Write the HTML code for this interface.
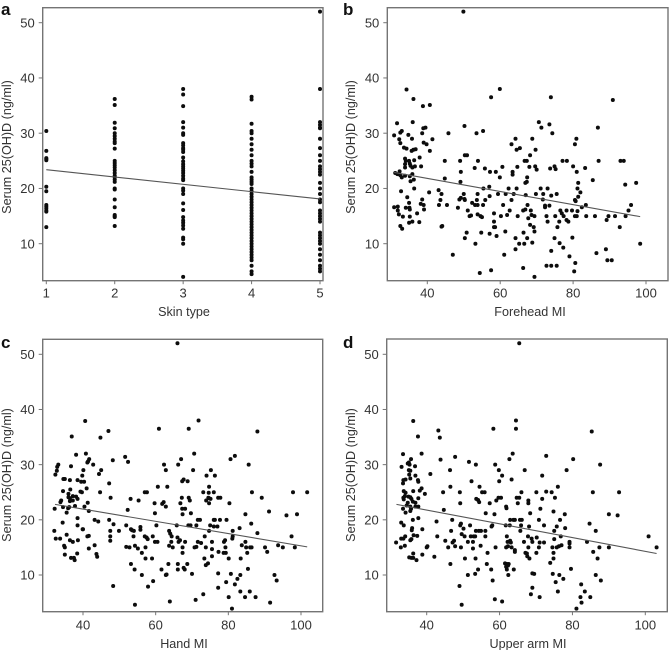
<!DOCTYPE html>
<html lang="en">
<head>
<meta charset="utf-8">
<title>Serum 25(OH)D scatter plots</title>
<style>
html,body{margin:0;padding:0;background:#fff;}
svg{display:block;font-family:"Liberation Sans",sans-serif;fill:#333;}
.frame{fill:none;stroke:#747474;stroke-width:1.4;}
.tick{stroke:#747474;stroke-width:1;}
.tl{font-size:13px;fill:#333;}
.title{font-size:12.6px;fill:#333;text-anchor:middle;}
.letter{font-size:17px;font-weight:bold;fill:#111;}
.trend{stroke:#555;stroke-width:1.1;fill:none;}
.pt{fill:#0c0c0c;}
</style>
</head>
<body>
<svg id="chart" width="669" height="650" viewBox="0 0 669 650" xmlns="http://www.w3.org/2000/svg">
<g id="panel-a">
<text class="letter" x="1" y="15">a</text>
<text class="title" transform="translate(11,147) rotate(-90)">Serum 25(OH)D (ng/ml)</text>
<text class="title" x="184" y="316">Skin type</text>
</g>
<g id="panel-b">
<text class="letter" x="343" y="15">b</text>
<text class="title" transform="translate(355,147) rotate(-90)">Serum 25(OH)D (ng/ml)</text>
<text class="title" x="530" y="316">Forehead MI</text>
</g>
<g id="panel-c">
<text class="letter" x="1" y="348">c</text>
<text class="title" transform="translate(11,475) rotate(-90)">Serum 25(OH)D (ng/ml)</text>
<text class="title" x="184" y="648">Hand MI</text>
</g>
<g id="panel-d">
<text class="letter" x="343" y="348">d</text>
<text class="title" transform="translate(355,475) rotate(-90)">Serum 25(OH)D (ng/ml)</text>
<text class="title" x="528" y="648">Upper arm MI</text>
</g>
</svg>
<script>
// ---- Tick labels ----
const serumTicks = [10, 20, 30, 40, 50];
const skinTicks = [1, 2, 3, 4, 5];
const miTicks = [40, 60, 80, 100];

// ---- Panel a: serum values per skin type ----
const skinTypes = [1, 2, 3, 4, 5];
const skinType1 = [30.4,26.8,25.5,25.3,25.1,20.3,19.5,17,16.7,16.4,16,15.8,13];
const skinType2 = [36.2,35.1,31.9,30.9,30,29.5,29,28.5,28.2,27.2,25,24.6,24.2,23.8,23.3,22.8,22.3,22,21.6,21.2,20,19.8,18,16.6,15.2,15,14.8,13.2];
const skinType3 = [38,37,34.9,32,31,30,29.7,28.2,27.8,27.3,27,26.6,25.6,24.9,24.4,24,23.6,23.2,22.8,22.3,21.8,21.5,20,19.6,19,17.3,16.1,14.8,14.2,13.8,13.3,12.7,11.1,10.8,10,4];
const skinType4 = [36.6,36.1,31.7,30.4,30,29,28,27,26,25,24.5,24,23,22,21.6,21.2,20.8,20,19.5,19,18.5,18,17.5,17,16.5,16,15.5,15,14.5,14,13.5,13,12.5,12,11.5,11,10.5,10,9.5,9,8.5,8,7.5,7,6,5,4.5];
const skinType5 = [52,38,32,31.5,31,30.9,29,27.3,26,25,24,23.5,23,22.5,21,20,19,18,17.5,16,15.5,15,14.5,14,12,11.5,11,10.5,10,9,8,7,6,5.5,5];
const skinTrend = [[1,23.4],[5,18.1]];

// ---- Panel b: [forehead MI, serum] ----
const foreheadPoints = [[49.9,52],[34.3,37.9],[36.2,36.2],[38.8,34.9],[40.7,35.1],[57.5,36.5],[59.9,38],[73.9,36.5],[90.9,36],[31.7,31.8],[36,32],[30.9,29.6],[33,30.4],[32.6,30.1],[34.8,29.7],[32.3,28.9],[32.6,28.2],[35.8,29],[38.9,30.9],[39.5,31],[38.6,30],[39,28.3],[39.8,28],[41.4,28.9],[40.7,26.8],[45.8,30],[50.2,31.3],[55.3,30.4],[53.5,30],[33.6,27.4],[34.3,27.2],[35.7,26.8],[36.2,27],[36.8,27.1],[33.9,25.4],[34.1,25],[35,25],[35.2,24.5],[33.9,24.4],[33.9,23.8],[35.4,24.1],[35.9,23.8],[36.6,24],[36.4,25.1],[37.9,25.6],[38.3,24],[31.2,22.8],[31.8,22.6],[32.4,23.1],[32.6,22.4],[33,22],[33.9,22.3],[35.2,22.2],[35.9,22.6],[35.4,21.3],[36.3,21.6],[36.4,20],[32.8,19.5],[34.5,18.4],[35,17.4],[35.1,16.5],[34.1,16.5],[35.2,16.2],[30.9,16.6],[31.9,16.7],[31.9,16],[32.2,15.3],[33.3,14.9],[32.6,13.2],[33.1,12.7],[35.2,14.9],[35,13.8],[35.9,14],[37.2,15.5],[37.8,13.9],[38.6,18],[38.2,17.2],[39,17],[39.1,16.2],[40.5,19.3],[43.1,19.7],[43.9,19],[43.6,17.9],[43.2,17],[44.8,21.8],[44.8,25],[45.4,17],[43.9,13.1],[44.1,13.2],[47,8],[48.4,16.5],[49,25],[49.2,23],[49.1,21.2],[48.8,18],[49.2,18.3],[50,19],[50.2,18.1],[50.3,17.9],[50.3,26],[50.9,26],[51.1,16],[51.6,15],[52,15.1],[52.3,17.4],[53.1,17],[50.8,12],[50.3,11],[53.2,10],[53,23.7],[53.9,25],[53.8,19],[53.6,17.9],[53.8,17],[53.8,15.3],[54.6,15],[55,14.8],[55.4,20],[55.3,17],[55.9,17.9],[55.8,23.6],[57.2,23],[57,20.3],[57.1,18.6],[54.8,12],[57.1,11.8],[54.4,4.7],[57.5,5.2],[58.3,15.5],[58.3,14],[58.3,13],[58.6,13],[59,11.4],[58.8,23],[59.4,19],[59.9,22],[60.6,23.9],[60.2,15],[60.8,17],[61.5,19],[61.9,15.2],[62.6,16],[61.4,12.2],[61.1,8],[62.3,20],[63.1,17.9],[63.7,19],[63.4,23],[63.4,22.5],[63.1,28],[64.2,29],[64.5,27],[65.4,27.3],[64.7,23.9],[64.5,20],[64.8,15],[64.2,11],[64.2,9],[65.2,10],[66.3,5.6],[66.3,16],[66.9,16.2],[66.4,12],[66.6,10],[67.4,11],[66.7,25],[67.3,25],[68.2,26],[68,23.9],[68.8,29],[67.4,22],[66.9,21],[67.3,21.2],[67,18.8],[67.5,17],[67.7,14.6],[68.2,13.4],[68.4,16],[68.6,15.2],[69.2,13],[69.4,15],[69.4,12.2],[68.8,10.2],[69.7,27],[69.6,24],[70,23.4],[69.8,19],[69.4,4],[70.6,32],[71.3,31],[73.5,31.6],[74.3,30],[71.1,20],[71.8,19],[71.7,18],[72.3,16.9],[72.3,16.6],[73,20],[73.5,16.9],[72.7,15],[73,14],[73.7,23.6],[74,18.7],[74.9,24],[75.2,23.5],[75.5,19],[75.1,15],[75.7,13],[76.2,14],[76.5,16],[76.9,15.5],[74.9,11],[76.3,10.1],[77.3,9.3],[74,8.7],[72.7,6],[74,6],[75.5,6],[77.1,25],[78.3,25],[77.4,15],[78.2,16],[78.2,14.3],[78.7,14],[79,7.7],[79.8,11.1],[80,24],[81,23],[80.9,29],[80.5,28],[79.7,16],[80.5,15],[81,15],[80.5,17.9],[80.7,17.7],[81.2,20],[81.4,21],[82,19.3],[81.4,18.5],[81.2,15.9],[82.4,16.6],[83.5,17],[83.6,15],[83.3,23.7],[80.3,5],[80.6,6.5],[85.4,21.5],[86,15],[86.4,8.3],[86.8,31],[87,25],[89.2,14.3],[89.7,15],[91.5,15],[92.8,13],[89,9],[89.4,7],[90.6,7],[93,25],[93.9,25],[94.3,20.7],[94.4,15],[95.2,16],[95.9,17],[97.3,21],[98.4,10]];
const foreheadTrend = [[30.9,22.9],[98.4,14.9]];

// ---- Panel c: [hand MI, serum] ----
const handPoints = [[66,52],[40.6,37.9],[36.9,35.1],[47,36.1],[44.8,34.9],[60.9,36.5],[69.1,36.5],[71.8,38],[88,36],[38.1,31.8],[40.8,32],[41.7,31],[41.4,30.6],[41.2,30.4],[42.8,30],[32.4,28.2],[32.8,28.9],[32.9,29.6],[33.2,30],[36.7,29.7],[40.1,29],[39.8,28],[44.4,28.3],[45,29],[48.2,30.8],[51.6,31.4],[52.4,30.5],[34.6,27.4],[35,27.4],[36.4,27.2],[38.5,27.2],[39.5,26.9],[40.3,26.9],[34.5,25.2],[36.5,25.5],[41,25.7],[39.3,25.1],[39.7,25],[44.7,25],[47.2,26.6],[47.6,24],[34,23.5],[33.8,23.2],[36,24.7],[36,24.1],[36.4,23.9],[37.2,24.3],[38.1,24.2],[38.5,23.8],[36.4,23.4],[37.2,23.5],[41.3,23.1],[32.2,22],[34.5,22.3],[35.9,22.1],[36.2,22.3],[35.5,21.3],[37.8,22.5],[40.4,22.4],[41.6,21.6],[34.4,19.5],[38.5,20.3],[38.5,19],[43.2,20],[44.2,19.7],[47.2,20],[48.4,19.2],[32.1,18],[32.5,16.6],[33.7,16.6],[35.5,17.3],[36.4,16.3],[37.2,16],[39.9,18.3],[40,18.3],[38.6,16.3],[41.2,17],[41.6,17.1],[34.8,15.3],[35,15],[35,13.7],[36.7,13.1],[37.5,13.1],[37.7,12.7],[38.4,13.9],[41.6,14.8],[43.2,15.4],[43.7,13.8],[43.9,13.3],[47.5,18],[47.5,17],[47.5,16.2],[49.9,18],[48.3,8],[51.9,19],[52.3,21.8],[53.1,23.8],[55.3,23.5],[53.2,18.3],[53.5,18.1],[54,18],[55.8,18.7],[55.8,18.2],[53.9,17],[51.9,15.1],[52.8,15],[54.3,15.3],[55.1,14.8],[56.2,14],[53.2,12],[54.2,11],[56.2,10],[54.3,4.6],[57,17],[57.5,16.8],[57.8,16.5],[57.2,15],[57.2,13],[57.9,7.9],[57,25],[57.6,25],[60.6,26],[59.7,23],[59.8,21.2],[60.2,19],[59.2,17],[59.8,16],[60.5,16],[59,13],[59.3,8.9],[62.3,30],[62.8,29],[63.2,26],[62.2,23.2],[61.8,22.9],[62.8,22.4],[63.7,18],[64,17.5],[64.4,17],[64.3,16],[63.7,15.3],[64.7,15],[61.6,11],[62.8,10],[63,10.1],[63.5,12],[63.9,5.2],[66.2,30],[67,31],[70.6,32],[70.3,29],[67.3,27],[67.7,27.3],[68.8,27],[67.2,24],[69.1,24],[69.4,23.5],[66.8,23],[67.3,22],[68.1,22],[67.4,21],[69.7,21.2],[65.8,19],[69,19],[69.6,19],[71.2,19],[71.6,20],[72.2,20],[66,16.8],[66.7,16.3],[66.3,16],[67.4,15],[67.4,14],[68.1,16],[66.1,12],[66.1,11],[68.7,12],[67.7,11.3],[68,11],[70,10.2],[71,5.5],[73.1,6.5],[70.7,15],[71.2,15.1],[71.6,16],[72.5,15.8],[73.1,25],[74.6,24.9],[74.7,26],[75.2,29],[74,28],[76.3,28],[76,25],[73.9,23.5],[74.7,23.9],[74.5,24],[75.1,23.8],[74.7,23],[77.2,24],[77.8,24],[76,20],[76.3,20],[77.7,20],[75,19],[76,18.8],[77,18.8],[74.7,18],[73.5,17],[75.5,16],[75.5,14.7],[73.8,15],[77.3,14.2],[75.5,13.4],[73.4,13],[73.8,11.8],[74.4,12.1],[77.2,10.3],[77.2,7.7],[79.4,8.7],[79.5,20],[80.3,23],[80.6,31],[81.8,31.6],[78.8,16],[79.1,16.3],[79.2,15],[78.7,14],[79.3,14],[80.1,13],[81.2,18],[81.2,17],[81.1,16.6],[83.1,18.5],[83.7,15.4],[84.7,16],[84.9,15],[85.2,14],[86,15],[86.4,15],[83.4,13],[80.7,10.2],[81.8,8.3],[82.5,9.3],[83.3,10],[85.4,11.1],[80.1,6],[81,3.9],[83.3,7],[84.6,6],[85.9,7],[87.5,6],[91.5,5],[85.6,30],[86.5,25],[84.7,21],[86.3,19.3],[88,17.6],[89.2,24],[91.2,21.5],[90.1,15],[90.7,14.2],[92.7,10],[93.3,9],[93.7,15.4],[95,15],[96,20.8],[97.4,17],[97.8,25],[98.3,15],[98.9,21],[101.7,25]];
const handTrend = [[32.3,22.8],[101.7,15.1]];

// ---- Panel d: [upper arm MI, serum] ----
const upperArmPoints = [[65.4,52],[36.3,37.9],[37.6,35.1],[64.5,38],[64.5,36.5],[58.3,36.5],[43.2,36.2],[43.6,34.9],[85.3,36],[33.5,31.9],[35.7,31],[38.6,32],[43.8,30.9],[47.8,31.4],[51.6,30.5],[63.6,32],[62.7,31],[72.8,31.6],[80.2,31],[33.1,29.6],[35.1,30.4],[35.3,30],[34.8,30.2],[36.8,29.7],[35.1,29],[35.5,28.9],[35.2,28.2],[36.9,28],[41,28.3],[46.4,29],[53.5,30],[58.8,30],[59.8,29],[60.7,28],[66.9,29],[71.7,28],[78.4,29],[87.6,30],[33.6,27.2],[34.2,27.3],[35.5,27.5],[37.6,27.2],[37.7,26.9],[33.5,26.6],[52.3,27],[59.9,27],[63.3,27.3],[46.5,26],[54.5,26],[76,26],[33.7,25.2],[34.2,24.9],[36.3,25.2],[38.1,25.3],[38.6,25.7],[39.5,24.7],[37.7,23.9],[44.5,25],[49.1,25],[55.2,25],[55.9,25],[66,25],[70.1,25],[72.8,25.1],[74.3,25],[85.6,25],[92.8,25],[33.6,24],[34,24.3],[35,24.2],[35.5,24.1],[33.7,23.7],[35.8,23.8],[36.2,23.3],[36.9,23.1],[34.8,23.1],[53.6,23.8],[54.1,23.6],[54.4,23.2],[49.2,23],[57.3,23],[59.1,23.5],[59.7,24],[60.4,24],[64.7,24],[65.4,24],[65,23],[67.9,23.5],[67.9,23],[71.7,23.8],[75.2,24],[33.5,22],[34.2,21.3],[34.5,22.6],[35.5,22.4],[35.7,22],[35.5,21.6],[36.9,22.4],[37.7,22.4],[44.7,21.8],[56.2,21.2],[58.6,21],[61.8,22.4],[61.9,22.1],[68.4,21.2],[71.2,22],[74.8,21.5],[77.9,21],[90,21],[92.4,20.8],[33,19.5],[33.7,19],[36.2,20],[37.7,20.3],[42.7,19.7],[47,20],[49.4,19.3],[49.2,19],[51.9,19],[58,19],[57.8,18.8],[61.7,19],[62.8,19],[62.9,20],[63.8,20],[64.2,20],[65.6,20],[66.1,20],[65.9,19],[70.8,20],[72.2,19],[76.6,20],[68.1,18.8],[75.7,18.8],[78,18.5],[84.7,19.3],[36,18.5],[35.9,18.1],[38.8,18.3],[46.7,18],[50.1,18.4],[53.5,18],[54.3,18],[54.9,18],[56.1,18],[65.7,18],[75,18],[86.4,18],[33,16.6],[33.6,16.6],[34.1,17],[35.5,16.3],[35.8,16.5],[36.4,17.2],[37.4,17.1],[42.9,17],[49.6,17.4],[50.4,17],[52.1,17],[52.9,17],[53.3,17],[56.1,17],[62,17],[67.8,17],[68.8,16.6],[70.2,16.8],[75,16.5],[76.8,17],[100.9,17],[31.6,15.9],[32.9,15],[34,15.3],[40.2,15.2],[40,15],[45.1,16.2],[47.5,16.2],[47.1,15.9],[45.9,15],[47.8,15.2],[51.3,16],[52.7,16],[52.7,14.8],[49.4,15],[54.8,15.3],[58.9,15],[62.2,16],[62.9,16.2],[63.1,15.9],[61.8,15],[62.3,15.2],[63.3,15],[64.2,14.5],[64.2,14.2],[66.7,16],[69,16],[67.9,15],[72.2,15.9],[71,15.9],[70.8,15],[74.5,15],[75.7,15],[76.3,15.2],[77,15.4],[79.2,16],[79.2,15.7],[79.2,15],[84,16],[85.7,14.2],[87.4,15],[90,15],[103.1,15],[36.3,13.9],[35.8,13.1],[36.3,13.1],[35.2,13.2],[37.2,12.7],[38.8,13.7],[42.1,13.3],[53.4,13],[50.5,13],[56.7,14],[67.1,14],[67.5,13.9],[67.6,13.4],[68.2,13],[70.1,14],[74.8,14],[74.8,13],[73.9,12.2],[86.9,13],[46.5,12],[56.5,12],[61.5,12.1],[62,12],[62.5,12],[61.8,11.5],[62.3,11.7],[62,11],[57.7,11],[63.9,11],[54.1,11],[51.3,10],[53.3,10.2],[62.4,10],[69,10.3],[69.5,10.2],[74.6,10.2],[76.4,10],[79.6,11.1],[86.4,10],[58.1,9],[87.8,9],[75.4,8.7],[77.5,9.3],[49,8],[69,7.7],[82.4,8.3],[76,7],[83.4,7],[68.6,6.5],[71,6],[82.2,6],[84.9,6],[82.5,5],[58.7,5.6],[60.7,5.2],[49.6,4.6],[81.1,3.9]];
const upperArmTrend = [[31.7,22.8],[103.1,13.9]];

// ---- Axis functions ----
function linear(d0, d1, r0, r1) {
  return function (v) { return r0 + (v - d0) * (r1 - r0) / (d1 - d0); };
}
const SVGNS = 'http://www.w3.org/2000/svg';
function make(parent, tag, attrs) {
  const el = document.createElementNS(SVGNS, tag);
  for (const k in attrs) el.setAttribute(k, attrs[k]);
  parent.appendChild(el);
  return el;
}

function drawPanel(id, box, xs, ys, xTicks, points, trend) {
  const g = document.getElementById('panel-' + id);

  const frame = make(g, 'rect', {x: box.l, y: box.t, width: box.r - box.l, height: box.b - box.t, class: 'frame'});
  
  

  serumTicks.forEach(function (t) {
    const y = ys(t);
    const mark = make(g, 'line', {x1: box.l - 4, x2: box.l, y1: y, y2: y, class: 'tick'});
    
    
    const lab = make(g, 'text', {x: box.l - 8, y: y + 4.6, 'text-anchor': 'end', class: 'tl'});
    
    
    lab.textContent = t;
  });

  xTicks.forEach(function (t) {
    const x = xs(t);
    const mark = make(g, 'line', {x1: x, x2: x, y1: box.b, y2: box.b + 3.5, class: 'tick'});
    
    
    const lab = make(g, 'text', {x: x, y: box.b + box.labelGap, 'text-anchor': 'middle', class: 'tl'});
    
    
    lab.textContent = t;
  });

  points.forEach(function (p) {
    const c = make(g, 'circle', {cx: xs(p[0]), cy: ys(p[1]), r: 2, class: 'pt'});
    
    
  });

  const line = make(g, 'line', {x1: xs(trend[0][0]), y1: ys(trend[0][1]), x2: xs(trend[1][0]), y2: ys(trend[1][1]), class: 'trend'});
  
  
}

const skinColumns = [skinType1, skinType2, skinType3, skinType4, skinType5];
const skinPoints = [];
skinTypes.forEach(function (s, i) {
  skinColumns[i].forEach(function (v) { skinPoints.push([s, v]); });
});

drawPanel('a', {l: 42.7, r: 323, t: 7.7, b: 280.7, labelGap: 17},
  linear(1, 5, 46.3, 320), linear(10, 50, 243.7, 22.7), skinTicks, skinPoints, skinTrend);
drawPanel('b', {l: 387.3, r: 668, t: 7.7, b: 280.7, labelGap: 17},
  linear(40, 100, 427.3, 646), linear(10, 50, 243.7, 22.7), miTicks, foreheadPoints, foreheadTrend);
drawPanel('c', {l: 42.7, r: 322.7, t: 339.3, b: 611.7, labelGap: 18},
  linear(40, 100, 83, 301), linear(10, 50, 575, 354.3), miTicks, handPoints, handTrend);
drawPanel('d', {l: 386.7, r: 667.3, t: 339, b: 611.7, labelGap: 18},
  linear(40, 100, 426.7, 645.3), linear(10, 50, 575, 354.3), miTicks, upperArmPoints, upperArmTrend);
</script>
</body>
</html>
